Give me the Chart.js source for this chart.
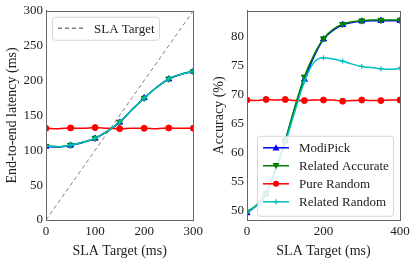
<!DOCTYPE html>
<html>
<head>
<meta charset="utf-8">
<script src="https://cdn.jsdelivr.net/npm/chart.js@4.4.0/dist/chart.umd.min.js"></script>
<style>
  html, body { margin: 0; padding: 0; background: #fff; }
  #wrap { position: relative; width: 415px; height: 260px; }
  #latWrap { position: absolute; left: 0; top: 0; width: 207px; height: 260px; }
  #accWrap { position: absolute; left: 207px; top: 0; width: 208px; height: 260px; }
</style>
</head>
<body>
<div id="wrap">
  <div id="latWrap"><canvas id="latChart" width="207" height="260"></canvas></div>
  <div id="accWrap"><canvas id="accChart" width="208" height="260"></canvas></div>
</div>
<script>
// left panel: latency vs SLA target
const latX = [0, 25, 50, 75, 100, 125, 150, 175, 200, 225, 250, 275, 300];
const slaLine = [0, 300];
const modiLat = [105.5, 104.5, 107, 111, 117, 127, 140, 158, 175, 190, 202, 209, 213];
const relAccLat = [106, 105, 107.5, 111.5, 117.5, 127.5, 140.5, 158, 175, 190, 202.5, 209, 213];
const relRandLat = [106, 105, 107.5, 111.5, 117.5, 127.5, 140.5, 158, 175, 190, 202.5, 209, 213];
const pureLat = [131.5, 131, 132, 131.5, 132.5, 131.5, 131, 131.5, 131.5, 131, 132, 131.5, 131.5];
const latTicksX = [0, 100, 200, 300];
const latTicksY = [0, 50, 100, 150, 200, 250, 300];

// right panel: accuracy vs SLA target
const accX = [0, 25, 50, 75, 100, 125, 150, 175, 200, 225, 250, 275, 300, 325, 350, 375, 400];
const modiAcc = [49.5, 50.8, 52.8, 57, 62, 67.5, 72.5, 76.5, 79.5, 81, 82, 82.4, 82.6, 82.7, 82.7, 82.7, 82.7];
const relAccAcc = [49.7, 50.9, 52.9, 57.1, 62, 67.8, 73, 76.8, 79.6, 81.2, 82.1, 82.5, 82.7, 82.8, 82.8, 82.8, 82.8];
const pureAcc = [69, 68.9, 69.1, 69, 69.1, 68.9, 68.9, 69, 69, 69, 68.8, 68.9, 69, 68.9, 68.9, 69, 69];
const relRandAcc = [49.6, 50.8, 52.7, 56.8, 61.6, 67, 72.2, 75.5, 76.3, 76.1, 75.7, 75.2, 74.8, 74.6, 74.4, 74.3, 74.5];
const accTicksX = [0, 200, 400];
const accTicksY = [50, 55, 60, 65, 70, 75, 80];

const FONT = "'Liberation Serif', 'DejaVu Serif', serif";
const TXT = '#222';
const SPINE = '#666';

const BLUE = '#0000ff', GREEN = '#008000', RED = '#ff0000', CYAN = '#00bfbf';

function pts(xs, ys) {
  return xs.map((x, i) => ({ x: x, y: ys[i] }));
}

// markers only every 50 ms like markevery
function every50(r) {
  return ctx => (ctx.raw && ctx.raw.x % 50 === 0) ? r : 0;
}

function series(label, xs, ys, color, style, r, order, rot) {
  return {
    label: label,
    data: pts(xs, ys),
    borderColor: color,
    backgroundColor: color,
    borderWidth: 1.5,
    pointStyle: style,
    pointRadius: every50(r),
    pointBorderWidth: style === 'cross' ? 1.2 : 1,
    pointRotation: rot || 0,
    cubicInterpolationMode: 'monotone',
    order: order
  };
}

// frame around the plot area (all four spines)
const framePlugin = {
  id: 'frame',
  afterDatasetsDraw(chart) {
    const a = chart.chartArea, c = chart.ctx;
    c.save();
    c.strokeStyle = SPINE;
    c.lineWidth = 1;
    c.strokeRect(Math.round(a.left) + 0.5, Math.round(a.top) + 0.5,
      Math.round(a.right - a.left), Math.round(a.bottom - a.top));
    c.restore();
  }
};

// matplotlib-like legend box placed inside the axes
function drawMarker(c, style, color, x, y, r) {
  c.fillStyle = color;
  c.strokeStyle = color;
  c.beginPath();
  if (style === 'triangle') {
    c.moveTo(x, y - r); c.lineTo(x + r, y + r * 0.8); c.lineTo(x - r, y + r * 0.8); c.closePath(); c.fill();
  } else if (style === 'triangleDown') {
    c.moveTo(x, y + r); c.lineTo(x + r, y - r * 0.8); c.lineTo(x - r, y - r * 0.8); c.closePath(); c.fill();
  } else if (style === 'circle') {
    c.arc(x, y, r, 0, Math.PI * 2); c.fill();
  } else if (style === 'cross') {
    c.lineWidth = 1.2;
    c.moveTo(x - r, y); c.lineTo(x + r, y); c.moveTo(x, y - r); c.lineTo(x, y + r); c.stroke();
  }
}

const boxLegend = {
  id: 'boxLegend',
  afterDraw(chart, args, opts) {
    const c = chart.ctx, a = chart.chartArea;
    const x0 = a.left + opts.dx, y0 = a.top + opts.dy;
    c.save();
    c.globalAlpha = 0.85;
    c.fillStyle = '#fff';
    c.strokeStyle = '#d0d0d0';
    c.lineWidth = 1;
    c.beginPath();
    c.roundRect(x0 + 0.5, y0 + 0.5, opts.w, opts.h, 3);
    c.fill(); c.stroke();
    c.globalAlpha = 1;
    c.font = '13px ' + FONT;
    c.textBaseline = 'middle';
    opts.items.forEach((it, i) => {
      const cy = y0 + opts.first + i * opts.step;
      const lx = x0 + 6;
      c.strokeStyle = it.color;
      c.lineWidth = 1.5;
      c.setLineDash(it.dash || []);
      c.beginPath(); c.moveTo(lx, cy); c.lineTo(lx + 26, cy); c.stroke();
      c.setLineDash([]);
      if (it.marker) drawMarker(c, it.marker, it.color, lx + 13, cy, it.r);
      c.fillStyle = TXT;
      c.fillText(it.text, lx + 36, cy + 1);
    });
    c.restore();
  }
};

function axis(min, max, ticks, title, fit, isY) {
  return {
    type: 'linear',
    min: min,
    max: max,
    afterBuildTicks: s => { s.ticks = ticks.map(v => ({ value: v })); },
    afterFit: s => { if (isY) s.width = fit; else s.height = fit; },
    grid: { display: true, drawOnChartArea: false, drawTicks: false },
    border: { color: SPINE, width: 1 },
    ticks: {
      color: TXT,
      font: { family: FONT, size: 13 },
      padding: isY ? 3 : 4,
      callback: v => v
    },
    title: {
      display: true,
      text: title,
      color: TXT,
      font: { family: FONT, size: 14 },
      padding: isY ? { top: 4, bottom: 0 } : { top: 0, bottom: 0 }
    }
  };
}

const baseOpts = {
  responsive: false,
  animation: false,
  events: [],
  plugins: { legend: { display: false }, tooltip: { enabled: false } }
};

new Chart(document.getElementById('latChart'), {
  type: 'line',
  data: {
    datasets: [
      {
        label: 'SLA Target',
        data: pts(slaLine, slaLine),
        borderColor: '#808080',
        borderWidth: 1,
        borderDash: [4, 3],
        pointRadius: 0,
        order: 10
      },
      series('ModiPick', latX, modiLat, BLUE, 'triangle', 3.5, 4),
      series('Related Accurate', latX, relAccLat, GREEN, 'triangle', 3.5, 3, 180),
      series('Pure Random', latX, pureLat, RED, 'circle', 3, 2),
      series('Related Random', latX, relRandLat, CYAN, 'cross', 2.5, 1)
    ]
  },
  options: Object.assign({}, baseOpts, {
    layout: { padding: { top: 10, right: 9, left: 0, bottom: 0 } },
    scales: {
      x: axis(0, 300, latTicksX, 'SLA Target (ms)', 40, false),
      y: axis(0, 300, latTicksY, 'End-to-end latency (ms)', 46, true)
    },
    plugins: Object.assign({}, baseOpts.plugins, {
      boxLegend: {
        dx: 6, dy: 6, w: 107, h: 23, first: 11.5, step: 18,
        items: [{ text: 'SLA Target', color: '#808080', dash: [4, 3] }]
      }
    })
  }),
  plugins: [framePlugin, boxLegend]
});

new Chart(document.getElementById('accChart'), {
  type: 'line',
  data: {
    datasets: [
      series('ModiPick', accX, modiAcc, BLUE, 'triangle', 3.5, 4),
      series('Related Accurate', accX, relAccAcc, GREEN, 'triangle', 3.5, 3, 180),
      series('Pure Random', accX, pureAcc, RED, 'circle', 3, 2),
      series('Related Random', accX, relRandAcc, CYAN, 'cross', 2.5, 1)
    ]
  },
  options: Object.assign({}, baseOpts, {
    layout: { padding: { top: 10, right: 15, left: 0, bottom: 0 } },
    scales: {
      x: axis(0, 400, accTicksX, 'SLA Target (ms)', 40, false),
      y: axis(48.3, 84.4, accTicksY, 'Accuracy (%)', 40, true)
    },
    plugins: Object.assign({}, baseOpts.plugins, {
      boxLegend: {
        dx: 10, dy: 125, w: 136, h: 80, first: 12, step: 18,
        items: [
          { text: 'ModiPick', color: BLUE, marker: 'triangle', r: 3.5 },
          { text: 'Related Accurate', color: GREEN, marker: 'triangleDown', r: 3.5 },
          { text: 'Pure Random', color: RED, marker: 'circle', r: 3 },
          { text: 'Related Random', color: CYAN, marker: 'cross', r: 2.5 }
        ]
      }
    })
  }),
  plugins: [framePlugin, boxLegend]
});
</script>
</body>
</html>
